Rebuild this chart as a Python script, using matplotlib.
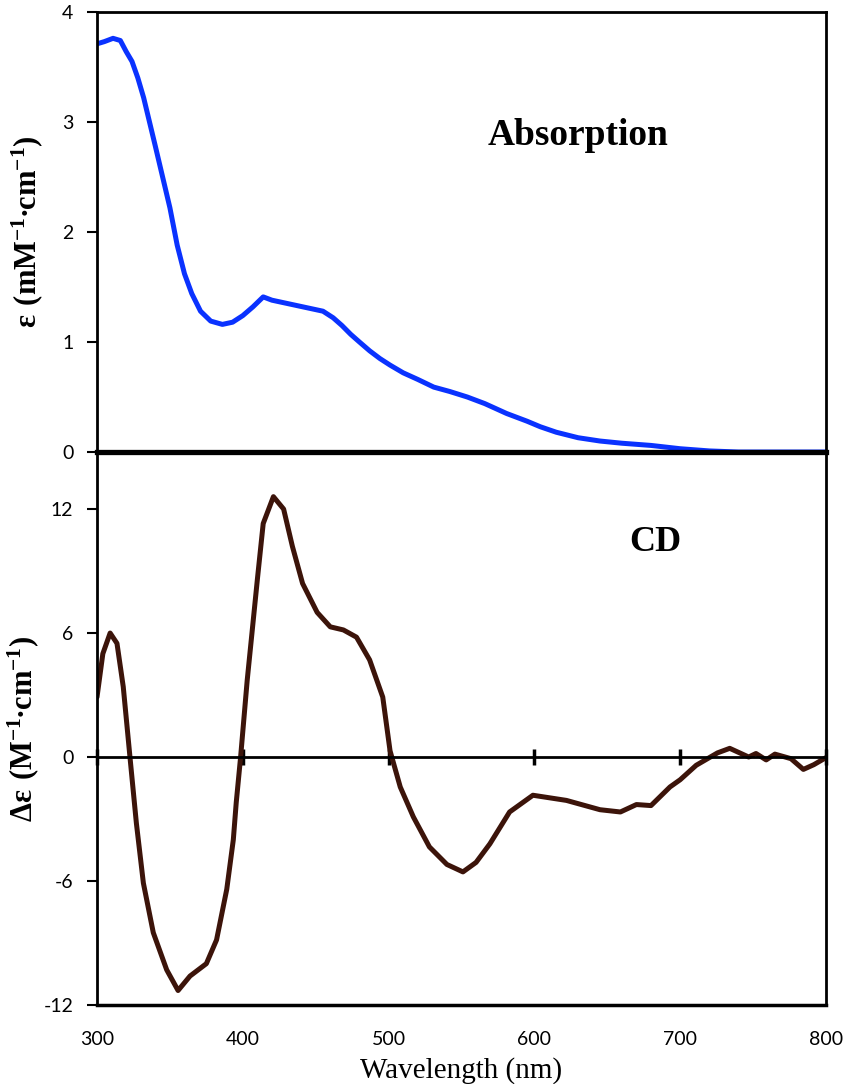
import matplotlib
matplotlib.use("Agg")
import matplotlib.pyplot as plt

plt.rcParams['mathtext.fontset'] = 'custom'
plt.rcParams['mathtext.rm'] = 'Liberation Serif'
plt.rcParams['mathtext.bf'] = 'Liberation Serif:bold'
plt.rcParams['axes.unicode_minus'] = False

# absorption spectrum (mM-1 cm-1)
abs_wl = [300, 305, 311, 316, 320, 324, 328, 332, 336, 340, 345, 350, 355, 360, 365,
          371, 378, 386, 393, 400, 407, 414, 420, 427, 434, 441, 448, 455, 462, 468,
          474, 480, 487, 494, 501, 510, 520, 531, 542, 554, 566, 581, 595, 604, 615,
          630, 645, 660, 680, 700, 720, 740, 760, 780, 800]
abs_eps = [3.71, 3.73, 3.76, 3.74, 3.64, 3.55, 3.40, 3.22, 3.00, 2.78, 2.50, 2.22, 1.88, 1.62, 1.44,
           1.28, 1.19, 1.16, 1.18, 1.24, 1.32, 1.41, 1.38, 1.36, 1.34, 1.32, 1.30, 1.28, 1.22, 1.15,
           1.07, 1.00, 0.92, 0.85, 0.79, 0.72, 0.66, 0.59, 0.55, 0.50, 0.44, 0.35, 0.28, 0.23, 0.18,
           0.13, 0.10, 0.08, 0.06, 0.03, 0.01, 0.0, 0.0, 0.0, 0.0]

# CD spectrum (M-1 cm-1)
cd_wl = [300, 304, 309, 313.7, 318, 322.6, 327, 331.8, 338.6, 347.8, 355.6, 363.8, 375, 382,
         389, 393.5, 395.5, 398.5, 403, 410, 414, 421, 428, 434, 441, 451, 460, 469, 478, 487,
         496, 501, 508, 517, 528, 540, 551, 560, 569.5, 583, 599, 622, 645, 659, 670, 680,
         693, 700, 711, 725.6, 734, 747, 752, 759, 765, 776, 784.5, 791.7, 800]
cd_de = [2.9, 5.0, 6.0, 5.5, 3.4, 0.0, -3.2, -6.1, -8.5, -10.3, -11.3, -10.6, -10.0, -8.85,
         -6.4, -4.0, -2.2, 0.0, 3.7, 8.6, 11.3, 12.6, 12.0, 10.2, 8.4, 7.0, 6.3, 6.15, 5.8, 4.7,
         2.9, 0.3, -1.45, -2.9, -4.35, -5.2, -5.56, -5.1, -4.2, -2.66, -1.85, -2.1, -2.55, -2.66, -2.3, -2.35,
         -1.45, -1.1, -0.4, 0.2, 0.42, 0.0, 0.17, -0.14, 0.14, -0.08, -0.6, -0.37, -0.03]

abs_ticks = [0, 1, 2, 3, 4]
cd_ticks = [-12, -6, 0, 6, 12]
wl_ticks = [300, 400, 500, 600, 700, 800]

fig = plt.figure(figsize=(8.48, 10.84), dpi=100)
left, width = 0.1144, 0.8596
ax2 = fig.add_axes([left, 0.0729, width, 0.5101])
ax1 = fig.add_axes([left, 0.583, width, 0.406])
ax1.patch.set_visible(False)

tickfont = 'Lato'
serif = 'Liberation Serif'

# --- top: absorption
ax1.plot(abs_wl, abs_eps, color='#0a32ff', lw=3.6, solid_capstyle='round')
ax1.set_xlim(300, 800)
ax1.set_ylim(0, 4)
ax1.set_yticks(abs_ticks)
ax1.set_xticks([])
for s in ['left', 'right', 'top']:
    ax1.spines[s].set_linewidth(2)
ax1.spines['bottom'].set_linewidth(3.8)
ax1.spines['bottom'].set_zorder(5)
ax1.tick_params(axis='y', direction='out', length=7, width=1.5, pad=10, labelsize=14)
for lab in ax1.get_yticklabels():
    lab.set_fontfamily(tickfont)
ax1.set_ylabel(r'$\mathbf{\varepsilon\ (mM^{-1}{\bullet}cm^{-1})}$', fontsize=22, labelpad=12)
ax1.text(630, 2.88, 'Absorption', fontsize=27, fontweight='bold', family=serif,
         ha='center', va='center')

# --- bottom: CD
ax2.plot(cd_wl, cd_de, color='#3c140a', lw=3.6, solid_capstyle='round')
ax2.set_xlim(300, 800)
ax2.set_ylim(-12, 14.76)
ax2.set_yticks(cd_ticks)
ax2.set_xticks(wl_ticks)
ax2.spines['top'].set_visible(False)
for s in ['left', 'right']:
    ax2.spines[s].set_linewidth(2)
ax2.spines['bottom'].set_position(('data', 0))
ax2.spines['bottom'].set_linewidth(2)
ax2.tick_params(axis='x', direction='inout', length=12, width=2.5, labelbottom=False)
ax2.tick_params(axis='y', direction='out', length=7, width=1.5, pad=10, labelsize=14)
for lab in ax2.get_yticklabels():
    lab.set_fontfamily(tickfont)
ax2.set_ylabel(r'$\mathbf{\Delta\varepsilon\ (M^{-1}{\bullet}cm^{-1})}$', fontsize=22, labelpad=2)
ax2.text(683, 10.36, 'CD', fontsize=26, fontweight='bold', family=serif,
         ha='center', va='center')

sec = ax2.secondary_xaxis('bottom')
sec.set_xticks(wl_ticks)
sec.spines['bottom'].set_linewidth(2.5)
sec.tick_params(axis='x', length=0, pad=19, labelsize=14)
for lab in sec.get_xticklabels():
    lab.set_fontfamily(tickfont)
sec.set_xlabel('Wavelength (nm)', fontsize=21, family=serif, labelpad=6)

fig.savefig('out.png', dpi=100)
